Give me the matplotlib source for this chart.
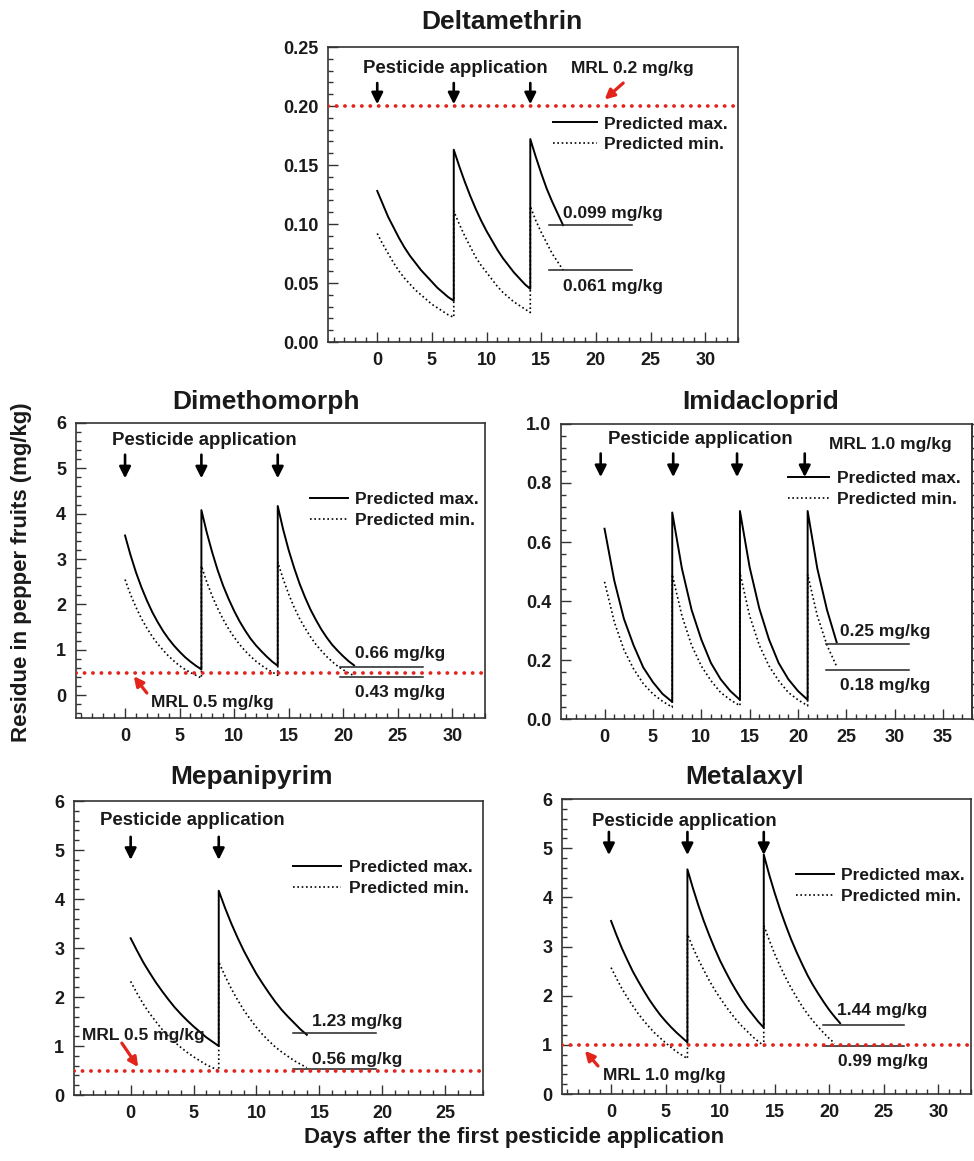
import matplotlib
matplotlib.use("Agg")
import matplotlib.pyplot as plt
import numpy as np
from matplotlib.ticker import MultipleLocator, FormatStrFormatter

plt.rcParams['font.family'] = ['Liberation Sans', 'DejaVu Sans']
plt.rcParams['font.weight'] = 'bold'

# ---------------- data ----------------
# Each curve: list of segments; segment = (application day, step in days)
delta_max = [(0, 0.5, [0.128, 0.117, 0.106, 0.097, 0.088, 0.080, 0.073, 0.067, 0.061, 0.056, 0.051, 0.046, 0.042, 0.038, 0.035]),
             (7, 0.5, [0.163, 0.149, 0.136, 0.124, 0.113, 0.103, 0.094, 0.086, 0.078, 0.071, 0.065, 0.059, 0.054, 0.049, 0.045]),
             (14, 0.5, [0.172, 0.157, 0.143, 0.130, 0.119, 0.109, 0.099])]
delta_min = [(0, 0.5, [0.092, 0.083, 0.075, 0.067, 0.060, 0.054, 0.049, 0.044, 0.040, 0.036, 0.032, 0.029, 0.026, 0.023, 0.021]),
             (7, 0.5, [0.111, 0.100, 0.090, 0.081, 0.072, 0.065, 0.059, 0.053, 0.047, 0.042, 0.038, 0.034, 0.031, 0.028, 0.025]),
             (14, 0.5, [0.115, 0.103, 0.093, 0.084, 0.075, 0.068, 0.061])]
delta_mrl = 0.2
delta_final = [0.099, 0.061]
delta_final_labels = ["0.099 mg/kg", "0.061 mg/kg"]

dime_max = [(0, 0.5, [3.52, 3.09, 2.71, 2.38, 2.09, 1.83, 1.61, 1.41, 1.24, 1.09, 0.96, 0.84, 0.74, 0.65, 0.57]),
            (7, 0.5, [4.08, 3.58, 3.14, 2.75, 2.41, 2.12, 1.86, 1.63, 1.43, 1.25, 1.10, 0.97, 0.85, 0.74, 0.65]),
            (14, 0.5, [4.17, 3.65, 3.20, 2.81, 2.46, 2.16, 1.89, 1.66, 1.45, 1.27, 1.11, 0.98, 0.86, 0.75, 0.66])]
dime_min = [(0, 0.5, [2.55, 2.22, 1.94, 1.69, 1.48, 1.29, 1.13, 0.99, 0.86, 0.75, 0.65, 0.57, 0.50, 0.44, 0.38]),
            (7, 0.5, [2.85, 2.49, 2.18, 1.91, 1.67, 1.46, 1.28, 1.12, 0.98, 0.86, 0.75, 0.66, 0.58, 0.51, 0.44]),
            (14, 0.5, [2.93, 2.56, 2.23, 1.94, 1.69, 1.48, 1.29, 1.12, 0.98, 0.85, 0.74, 0.64, 0.56, 0.49, 0.43])]
dime_mrl = 0.5
dime_final = [0.63, 0.41]
dime_final_labels = ["0.66 mg/kg", "0.43 mg/kg"]

imid_max = [(0, 1, [0.645, 0.47, 0.34, 0.25, 0.175, 0.125, 0.085, 0.058]),
            (7, 1, [0.70, 0.51, 0.37, 0.27, 0.19, 0.135, 0.095, 0.065]),
            (14, 1, [0.705, 0.515, 0.375, 0.27, 0.19, 0.135, 0.095, 0.065]),
            (21, 1, [0.705, 0.51, 0.37, 0.26])]
imid_min = [(0, 1, [0.465, 0.33, 0.235, 0.17, 0.12, 0.085, 0.06, 0.04]),
            (7, 1, [0.49, 0.35, 0.25, 0.18, 0.13, 0.09, 0.065, 0.045]),
            (14, 1, [0.495, 0.35, 0.25, 0.18, 0.13, 0.09, 0.065, 0.045]),
            (21, 1, [0.49, 0.35, 0.25, 0.178])]
imid_final = [0.254, 0.166]
imid_final_labels = ["0.25 mg/kg", "0.18 mg/kg"]

mepa_max = [(0, 0.5, [3.20, 2.95, 2.71, 2.50, 2.30, 2.12, 1.95, 1.79, 1.65, 1.52, 1.40, 1.29, 1.18, 1.09, 1.00]),
            (7, 0.5, [4.17, 3.82, 3.50, 3.21, 2.94, 2.70, 2.47, 2.27, 2.08, 1.90, 1.74, 1.60, 1.47, 1.34, 1.23])]
mepa_min = [(0, 0.5, [2.32, 2.08, 1.86, 1.67, 1.50, 1.34, 1.20, 1.08, 0.97, 0.87, 0.78, 0.70, 0.62, 0.56, 0.50]),
            (7, 0.5, [2.72, 2.43, 2.17, 1.94, 1.73, 1.55, 1.38, 1.23, 1.10, 0.98, 0.88, 0.79, 0.70, 0.63, 0.56])]
mepa_mrl = 0.5
mepa_final = [1.26, 0.53]
mepa_final_labels = ["1.23 mg/kg", "0.56 mg/kg"]

meta_max = [(0, 0.5, [3.52, 3.23, 2.96, 2.72, 2.49, 2.29, 2.10, 1.92, 1.76, 1.61, 1.48, 1.36, 1.25, 1.15, 1.05]),
            (7, 0.5, [4.57, 4.19, 3.84, 3.52, 3.23, 2.96, 2.71, 2.49, 2.28, 2.09, 1.91, 1.75, 1.61, 1.47, 1.35]),
            (14, 0.5, [4.87, 4.46, 4.09, 3.75, 3.44, 3.15, 2.89, 2.65, 2.42, 2.22, 2.04, 1.87, 1.71, 1.57, 1.44])]
meta_min = [(0, 0.5, [2.57, 2.35, 2.14, 1.96, 1.79, 1.63, 1.49, 1.36, 1.24, 1.14, 1.04, 0.95, 0.86, 0.79, 0.72]),
            (7, 0.5, [3.25, 2.98, 2.74, 2.52, 2.31, 2.12, 1.95, 1.79, 1.64, 1.50, 1.38, 1.27, 1.16, 1.07, 0.98]),
            (14, 0.5, [3.43, 3.13, 2.85, 2.60, 2.37, 2.16, 1.97, 1.79, 1.63, 1.49, 1.36, 1.24, 1.13, 1.03])]
meta_mrl = 1.0
meta_final = [1.405, 0.98]
meta_final_labels = ["1.44 mg/kg", "0.99 mg/kg"]

# ---------------- style ----------------
FS = 12.5
FS_APP = 13.4
TXT = '#1a1a1a'
RED = '#e3241b'
SPINE = '#333333'

fig = plt.figure(figsize=(9.74, 11.61), dpi=100)


def curve_xy(segments):
    xs, ys = [], []
    for start, step, vals in segments:
        for i, v in enumerate(vals):
            xs.append(start + step * i)
            ys.append(v)
    return xs, ys


def make_axes(rect, xlim, ylim, ymajor, yminor, yfmt, yticks_max, xticks_max):
    ax = fig.add_axes(rect)
    ax.set_xlim(*xlim)
    ax.set_ylim(*ylim)
    ax.xaxis.set_minor_locator(MultipleLocator(1))
    ax.yaxis.set_minor_locator(MultipleLocator(yminor))
    ax.yaxis.set_major_formatter(FormatStrFormatter(yfmt))
    ax.set_xticks(list(range(0, xticks_max + 1, 5)))
    ax.set_yticks(list(np.arange(0, yticks_max + ymajor / 2, ymajor)))
    ax.tick_params(which='major', direction='in', length=7.5, width=1.0,
                   color=SPINE, labelsize=13, pad=7, labelcolor=TXT)
    ax.tick_params(which='minor', direction='in', length=3.8, width=1.0,
                   color=SPINE)
    for lab in ax.get_xticklabels() + ax.get_yticklabels():
        lab.set_fontweight('bold')
    for s in ax.spines.values():
        s.set_color(SPINE)
        s.set_linewidth(1.2)
    return ax


def draw_common(ax, maxseg, minseg, legend_anchor, hl):
    x, y = curve_xy(maxseg)
    ax.plot(x, y, color='black', lw=1.4, solid_joinstyle='round',
            label='Predicted max.')
    x, y = curve_xy(minseg)
    ax.plot(x, y, color='black', lw=1.2, linestyle=(0, (1, 1.6)),
            label='Predicted min.')
    leg = ax.legend(loc='upper left', bbox_to_anchor=legend_anchor,
                    frameon=False, fontsize=FS, handlelength=hl,
                    handletextpad=0.45, borderpad=0, borderaxespad=0,
                    labelspacing=0.32)
    for t in leg.get_texts():
        t.set_fontweight('bold')
        t.set_color(TXT)


def mrl_line(ax, y):
    ax.axhline(y, color=RED, lw=2.7, linestyle=(0, (0.05, 2.2)),
               dash_capstyle='round', zorder=5)


def app_arrows(ax, xs, ytop, ytip):
    for x in xs:
        ax.annotate('', xy=(x, ytip), xytext=(x, ytop),
                    arrowprops=dict(arrowstyle='-|>', lw=1.9, color='black',
                                    mutation_scale=17, shrinkA=0, shrinkB=0))


def red_arrow(ax, start, end):
    ax.annotate('', xy=end, xytext=start,
                arrowprops=dict(arrowstyle='-|>', lw=2.3, color=RED,
                                mutation_scale=14, shrinkA=0, shrinkB=0),
                zorder=6)


def text(ax, x, y, s, fs=FS):
    ax.text(x, y, s, ha='center', va='center', fontsize=fs,
            fontweight='bold', color=TXT)


def final_lines(ax, vals, x0, x1):
    for v in vals:
        ax.plot([x0, x1], [v, v], color='#222222', lw=1.1)


# ---------- Deltamethrin ----------
ax = make_axes([0.3368, 0.7054, 0.4209, 0.2541], (-4.5, 33), (0, 0.25),
               0.05, 0.01, '%.2f', 0.25, 30)
draw_common(ax, delta_max, delta_min, (0.549, 0.765), 2.5)
mrl_line(ax, delta_mrl)
app_arrows(ax, [0, 7, 14], 0.2195, 0.2015)
text(ax, 7.1, 0.2315, 'Pesticide application', FS_APP)
text(ax, 23.3, 0.2315, 'MRL 0.2 mg/kg')
red_arrow(ax, (22.5, 0.2195), (20.8, 0.2055))
final_lines(ax, delta_final, 15.7, 23.3)
text(ax, 21.6, 0.109, delta_final_labels[0])
text(ax, 21.6, 0.047, delta_final_labels[1])

# ---------- Dimethomorph ----------
ax = make_axes([0.0780, 0.3816, 0.4199, 0.2541], (-4.5, 33), (-0.5, 6),
               1, 0.2, '%d', 6, 30)
draw_common(ax, dime_max, dime_min, (0.573, 0.765), 2.15)
mrl_line(ax, dime_mrl)
app_arrows(ax, [0, 7, 14], 5.3, 4.78)
text(ax, 7.3, 5.62, 'Pesticide application', FS_APP)
red_arrow(ax, (2.0, 0.05), (0.8, 0.42))
text(ax, 8.0, -0.15, 'MRL 0.5 mg/kg')
final_lines(ax, dime_final, 19.7, 27.3)
text(ax, 25.2, 0.92, dime_final_labels[0])
text(ax, 25.2, 0.07, dime_final_labels[1])

# ---------- Imidacloprid ----------
ax = make_axes([0.5760, 0.3807, 0.4220, 0.2541], (-4.5, 38), (0, 1.0),
               0.2, 0.04, '%.1f', 1.0, 35)
sec = ax.secondary_yaxis('right')
sec.set_yticks(list(np.arange(0, 1.01, 0.2)))
sec.yaxis.set_minor_locator(MultipleLocator(0.04))
sec.tick_params(which='major', direction='out', length=5, width=1.0,
                color=SPINE, labelright=False)
sec.tick_params(which='minor', direction='out', length=3, width=1.0,
                color=SPINE)
sec.spines['right'].set_color(SPINE)
sec.spines['right'].set_linewidth(1.2)
draw_common(ax, imid_max, imid_min, (0.551, 0.84), 2.4)
app_arrows(ax, [-0.4, 7.1, 13.7, 20.7], 0.90, 0.82)
text(ax, 9.9, 0.947, 'Pesticide application', FS_APP)
text(ax, 29.6, 0.93, 'MRL 1.0 mg/kg')
final_lines(ax, imid_final, 22.9, 31.5)
text(ax, 29.0, 0.298, imid_final_labels[0])
text(ax, 29.0, 0.115, imid_final_labels[1])

# ---------- Mepanipyrim ----------
ax = make_axes([0.0760, 0.0568, 0.4199, 0.2532], (-4.5, 28), (0, 6),
               1, 0.2, '%d', 6, 25)
draw_common(ax, mepa_max, mepa_min, (0.535, 0.80), 2.8)
mrl_line(ax, mepa_mrl)
app_arrows(ax, [0, 7], 5.27, 4.8)
text(ax, 4.9, 5.6, 'Pesticide application', FS_APP)
red_arrow(ax, (-0.7, 1.06), (0.6, 0.57))
text(ax, 1.05, 1.22, 'MRL 0.5 mg/kg')
final_lines(ax, mepa_final, 12.9, 19.5)
text(ax, 18.0, 1.5, mepa_final_labels[0])
text(ax, 18.0, 0.73, mepa_final_labels[1])

# ---------- Metalaxyl ----------
ax = make_axes([0.5770, 0.0577, 0.4199, 0.2541], (-4.5, 33), (0, 6),
               1, 0.2, '%d', 6, 30)
draw_common(ax, meta_max, meta_min, (0.573, 0.767), 2.15)
mrl_line(ax, meta_mrl)
app_arrows(ax, [-0.2, 7.0, 14.0], 5.33, 4.86)
text(ax, 6.7, 5.55, 'Pesticide application', FS_APP)
red_arrow(ax, (-1.2, 0.57), (-2.4, 0.88))
text(ax, 4.9, 0.37, 'MRL 1.0 mg/kg')
final_lines(ax, meta_final, 19.4, 26.9)
text(ax, 24.9, 1.69, meta_final_labels[0])
text(ax, 24.9, 0.67, meta_final_labels[1])

# ---------- titles & labels ----------
TFS = 19
W, H = 974, 1161
for s, (x, y) in [('Deltamethrin', (502, 22)), ('Dimethomorph', (266, 402)),
                  ('Imidacloprid', (761, 402)), ('Mepanipyrim', (251, 777)),
                  ('Metalaxyl', (745, 777))]:
    fig.text(x / W, 1 - y / H, s, ha='center', va='center', fontsize=TFS,
             fontweight='bold', color=TXT)

fig.text(22 / W, 1 - 572 / H, 'Residue in pepper fruits (mg/kg)', rotation=90,
         ha='center', va='center', fontsize=16, fontweight='bold', color=TXT)
fig.text(514 / W, 1 - 1137 / H, 'Days after the first pesticide application',
         ha='center', va='center', fontsize=16, fontweight='bold', color=TXT)

fig.savefig('out.png', dpi=100)
